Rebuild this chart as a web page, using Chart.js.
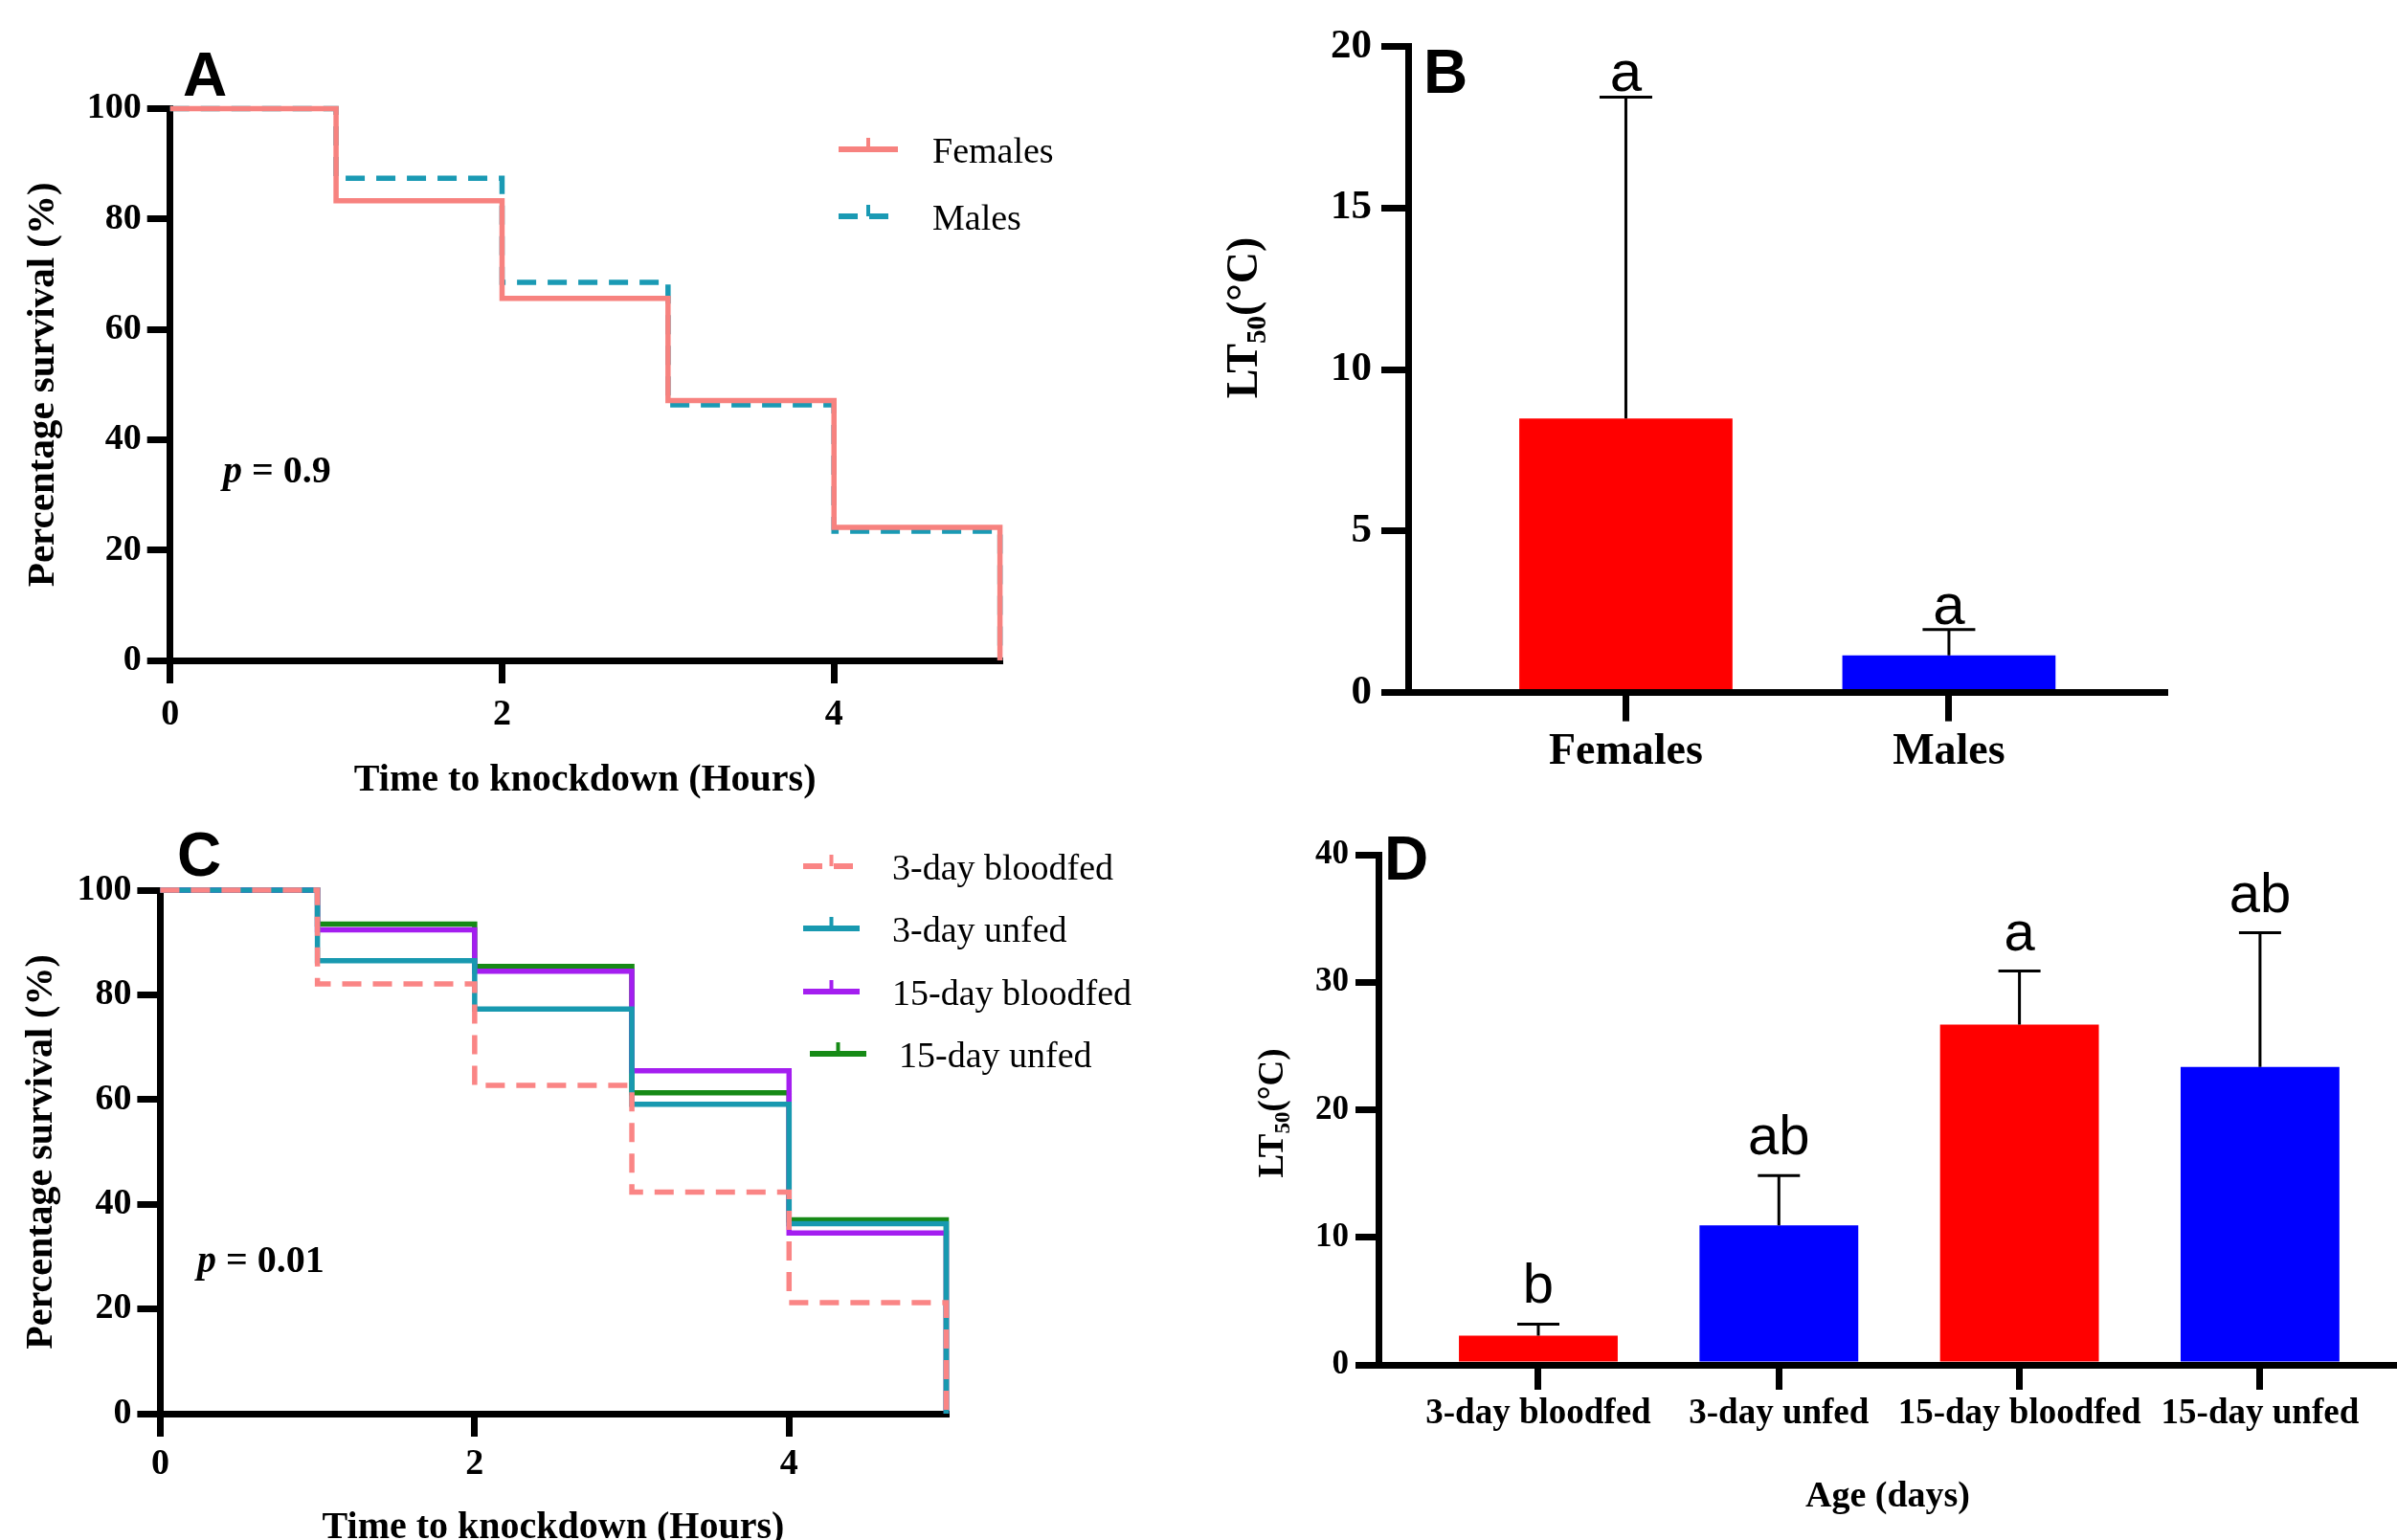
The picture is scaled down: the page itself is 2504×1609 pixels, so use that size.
<!DOCTYPE html>
<html>
<head>
<meta charset="utf-8">
<title>Knockdown survival and LT50</title>
<script src="https://cdn.jsdelivr.net/npm/chart.js@4.4.1/dist/chart.umd.min.js"></script>
<style>
  body { margin: 0; background: #fff; }
  #fig { position: relative; width: 2504px; height: 1609px; overflow: hidden; }
  #fig canvas { position: absolute; left: 0; top: 0; }
</style>
</head>
<body>
<div id="fig">
  <canvas id="chartA" width="2504" height="1609"></canvas>
  <canvas id="chartB" width="2504" height="1609"></canvas>
  <canvas id="chartC" width="2504" height="1609"></canvas>
  <canvas id="chartD" width="2504" height="1609"></canvas>
</div>
<script>
// --- data ---
const hours = [0, 1, 2, 3, 4, 5];
const hourTicks = [0, 2, 4];
const survTicks = [0, 20, 40, 60, 80, 100];

// A: survival by sex
const femalesSurv = [100, 83.3, 65.6, 47.1, 24.1, 0];
const malesSurv = [100, 87.4, 68.5, 46.3, 23.4, 0];

// B: LT50 by sex
const sexGroups = ['Females', 'Males'];
const sexLT50 = [8.48, 1.15];
const sexSD = [9.95, 0.8];
const sexLetters = ['a', 'a'];
const sexTicks = [0, 5, 10, 15, 20];

// C: survival by age / feeding
const ageGroups = ['3-day bloodfed', '3-day unfed', '15-day bloodfed', '15-day unfed'];
const survBloodfed3 = [100, 82.1, 62.7, 42.3, 21.2, 0];
const survUnfed3 = [100, 86.5, 77.3, 59.1, 36.3, 0];
const survBloodfed15 = [100, 92.4, 84.5, 65.5, 34.5, 0];
const survUnfed15 = [100, 93.5, 85.4, 61.3, 37.0, 0];

// D: LT50 by age / feeding
const ageLT50 = [2.28, 10.93, 26.68, 23.35];
const ageSD = [0.91, 3.91, 4.2, 10.53];
const ageLetters = ['b', 'ab', 'a', 'ab'];
const ageTicks = [0, 10, 20, 30, 40];

const SERIF = "'Liberation Serif', 'Times New Roman', serif";
const SANS = "'Liberation Sans', Arial, sans-serif";

// draws panel letter, p value, legend, error bars and LT50 axis title
const figureExtras = {
    id: 'figureExtras',
    afterDatasetsDraw(chart, args, opts) {
        const ctx = chart.ctx;
        ctx.save();
        ctx.fillStyle = '#000';

        if (opts.errors) {
            const e = opts.errors;
            const yScale = chart.scales.y;
            const meta = chart.getDatasetMeta(0);
            meta.data.forEach((bar, i) => {
                const yTop = yScale.getPixelForValue(chart.data.datasets[0].data[i].y + e.sd[i]);
                ctx.strokeStyle = '#000';
                ctx.lineWidth = 3;
                ctx.setLineDash([]);
                ctx.beginPath();
                ctx.moveTo(bar.x, bar.y);
                ctx.lineTo(bar.x, yTop);
                ctx.moveTo(bar.x - e.cap / 2, yTop);
                ctx.lineTo(bar.x + e.cap / 2, yTop);
                ctx.stroke();
                ctx.font = e.font;
                ctx.textAlign = 'center';
                ctx.textBaseline = 'alphabetic';
                ctx.fillText(e.letters[i], bar.x, yTop - e.gap);
            });
        }

        if (opts.legend) {
            const lg = opts.legend;
            chart.data.datasets.forEach((ds, i) => {
                const dx = lg.dx ? lg.dx[i] : 0;
                const y = lg.ys[i];
                const x1 = lg.x1 + dx, x2 = lg.x2 + dx;
                ctx.strokeStyle = ds.borderColor;
                ctx.lineWidth = 6;
                ctx.setLineDash(ds.borderDash || []);
                ctx.beginPath();
                ctx.moveTo(x1, y);
                ctx.lineTo(x2, y);
                ctx.stroke();
                ctx.setLineDash([]);
                ctx.lineWidth = 4;
                ctx.beginPath();
                ctx.moveTo((x1 + x2) / 2, y);
                ctx.lineTo((x1 + x2) / 2, y - 12);
                ctx.stroke();
                ctx.font = '38px ' + SERIF;
                ctx.textAlign = 'left';
                ctx.textBaseline = 'alphabetic';
                ctx.fillText(ds.label, lg.textX + dx, y + 14);
            });
        }

        if (opts.pval) {
            const p = opts.pval;
            ctx.textAlign = 'left';
            ctx.textBaseline = 'alphabetic';
            ctx.font = 'italic bold 40px ' + SERIF;
            ctx.fillText('p', p.x, p.y);
            const w = ctx.measureText('p').width;
            ctx.font = 'bold 40px ' + SERIF;
            ctx.fillText(' = ' + p.value, p.x + w, p.y);
        }

        if (opts.ytitle) {
            const t = opts.ytitle;
            const big = 'bold ' + t.size + 'px ' + SERIF;
            const small = 'bold ' + Math.round(t.size * 0.62) + 'px ' + SERIF;
            ctx.font = big;
            const w1 = ctx.measureText('LT').width;
            const w3 = ctx.measureText('(°C)').width;
            ctx.font = small;
            const w2 = ctx.measureText('50').width;
            ctx.translate(t.cx, t.cy);
            ctx.rotate(-Math.PI / 2);
            ctx.textAlign = 'left';
            ctx.textBaseline = 'middle';
            let x = -(w1 + w2 + w3) / 2;
            ctx.font = big;
            ctx.fillText('LT', x, 0);
            x += w1;
            ctx.font = small;
            ctx.fillText('50', x, t.size * 0.3);
            x += w2;
            ctx.font = big;
            ctx.fillText('(°C)', x, 0);
            ctx.setTransform(1, 0, 0, 1, 0, 0);
        }

        if (opts.panel) {
            ctx.font = 'bold 64px ' + SANS;
            ctx.textAlign = 'left';
            ctx.textBaseline = 'alphabetic';
            ctx.fillText(opts.panel.text, opts.panel.x, opts.panel.y);
        }
        ctx.restore();
    }
};

function axisStyle(tickLength) {
    return {
        grid: { drawOnChartArea: false, drawTicks: true, tickLength: tickLength, tickWidth: 7, lineWidth: 7, color: '#000', tickColor: '#000' },
        border: { display: true, width: 7, color: '#000' }
    };
}

function fixedTicks(values) {
    return (scale) => { scale.ticks = values.map(v => ({ value: v })); };
}

function baseOptions(padding, plugins, scales) {
    return {
        responsive: false,
        devicePixelRatio: 1,
        animation: false,
        events: [],
        layout: { padding: padding },
        plugins: Object.assign({ legend: { display: false }, tooltip: { enabled: false } }, plugins),
        scales: scales
    };
}

function kmLine(label, values, color, dash) {
    return {
        label: label,
        data: hours.map((h, i) => ({ x: h, y: values[i] })),
        stepped: true,
        borderColor: color,
        borderWidth: 5.5,
        borderDash: dash,
        pointRadius: 0,
        fill: false,
        clip: false
    };
}

function kmScales(o) {
    return {
        x: Object.assign({
            type: 'linear', min: 0, max: 5,
            afterBuildTicks: fixedTicks(hourTicks),
            afterFit: (s) => { s.height = o.xHeight; },
            ticks: { color: '#000', font: { family: SERIF, size: 38, weight: 'bold' }, padding: o.xPad, maxRotation: 0, autoSkip: false },
            title: { display: true, text: 'Time to knockdown (Hours)', color: '#000',
                     font: { family: SERIF, size: 40, weight: 'bold', lineHeight: o.xTitleLH }, padding: { top: 0, bottom: o.xTitlePad } }
        }, axisStyle(24)),
        y: Object.assign({
            min: 0, max: 100,
            afterBuildTicks: fixedTicks(survTicks),
            afterFit: (s) => { s.width = o.yWidth; },
            ticks: { color: '#000', font: { family: SERIF, size: 38, weight: 'bold' }, padding: 6 },
            title: { display: true, text: 'Percentage survival (%)', color: '#000',
                     font: { family: SERIF, size: o.yTitleSize, weight: 'bold' }, padding: { top: o.yTitlePad, bottom: 0 } }
        }, axisStyle(24))
    };
}

function barScales(o) {
    return {
        x: Object.assign({
            type: 'linear', min: o.xMin, max: o.xMax, offset: false, z: 1,
            afterBuildTicks: fixedTicks(o.groups.map((g, i) => i)),
            afterFit: (s) => { s.height = o.xHeight; },
            ticks: { color: '#000', font: { family: SERIF, size: o.xFont, weight: 'bold' }, padding: o.xPad,
                     maxRotation: 0, autoSkip: false, callback: (v) => o.groups[v] },
            title: o.xTitle ? { display: true, text: o.xTitle, color: '#000',
                     font: { family: SERIF, size: 38, weight: 'bold' }, padding: { top: 0, bottom: o.xTitlePad } } : { display: false }
        }, axisStyle(o.xTick)),
        y: Object.assign({
            min: 0, max: o.yMax, z: 1,
            afterBuildTicks: fixedTicks(o.yTicks),
            afterFit: (s) => { s.width = o.yWidth; },
            ticks: { color: '#000', font: { family: SERIF, size: o.yFont, weight: 'bold' }, padding: o.yPad }
        }, axisStyle(o.yTick))
    };
}
// grid offset off for the linear category axes
function noGridOffset(scales) {
    scales.x.grid.offset = false;
    return scales;
}

// --- A ---
new Chart(document.getElementById('chartA'), {
    type: 'line',
    data: { datasets: [
        kmLine('Females', femalesSurv, '#F7827F', []),
        kmLine('Males', malesSurv, '#1A9AB4', [20, 12])
    ] },
    options: baseOptions(
        { left: 0, top: 113.5, right: 1459.4, bottom: 759 },
        { figureExtras: {
            panel: { text: 'A', x: 191, y: 100 },
            pval: { value: '0.9', x: 233, y: 504 },
            legend: { x1: 876, x2: 938, textX: 974, ys: [156, 226] }
        } },
        kmScales({ xHeight: 160, xPad: 10, xTitleLH: 1.2, xTitlePad: 10, yWidth: 177.7, yTitleSize: 41, yTitlePad: 21 })
    ),
    plugins: [figureExtras]
});

// --- B ---
new Chart(document.getElementById('chartB'), {
    type: 'bar',
    data: { datasets: [{
        data: sexGroups.map((g, i) => ({ x: i, y: sexLT50[i] })),
        backgroundColor: ['#FF0000', '#0000FF'],
        borderWidth: 0,
        categoryPercentage: 1,
        barPercentage: 0.66
    }] },
    options: baseOptions(
        { left: 1321, top: 48.5, right: 242.3, bottom: 785.4 },
        { figureExtras: {
            panel: { text: 'B', x: 1487, y: 97 },
            errors: { sd: sexSD, letters: sexLetters, cap: 55, gap: 6, font: '60px ' + SANS },
            ytitle: { cx: 1301, cy: 332, size: 46 }
        } },
        noGridOffset(barScales({ groups: sexGroups, xMin: -0.674, xMax: 1.669, xHeight: 100, xFont: 46, xPad: 5, xTick: 30,
                                 yMax: 20, yTicks: sexTicks, yWidth: 150, yFont: 43, yPad: 10, yTick: 28 }))
    ),
    plugins: [figureExtras]
});

// --- C ---
new Chart(document.getElementById('chartC'), {
    type: 'line',
    data: { datasets: [
        kmLine(ageGroups[0], survBloodfed3, '#FA8585', [20, 12]),
        kmLine(ageGroups[1], survUnfed3, '#1899B0', []),
        kmLine(ageGroups[2], survBloodfed15, '#A41EF0', []),
        kmLine(ageGroups[3], survUnfed15, '#168A16', [])
    ] },
    options: baseOptions(
        { left: 0, top: 930, right: 1515.5, bottom: 0 },
        { figureExtras: {
            panel: { text: 'C', x: 185, y: 915 },
            pval: { value: '0.01', x: 206, y: 1329 },
            legend: { x1: 839, x2: 898, textX: 932, ys: [905, 970, 1036, 1101], dx: [0, 0, 0, 7] }
        } },
        kmScales({ xHeight: 132, xPad: 6, xTitleLH: 0.6, xTitlePad: 0.5, yWidth: 167.4, yTitleSize: 40, yTitlePad: 20 })
    ),
    plugins: [figureExtras]
});

// --- D ---
new Chart(document.getElementById('chartD'), {
    type: 'bar',
    data: { datasets: [{
        data: ageGroups.map((g, i) => ({ x: i, y: ageLT50[i] })),
        backgroundColor: ['#FF0000', '#0000FF', '#FF0000', '#0000FF'],
        borderWidth: 0,
        categoryPercentage: 1,
        barPercentage: 0.66
    }] },
    options: baseOptions(
        { left: 1320, top: 893, right: 0, bottom: 18 },
        { figureExtras: {
            panel: { text: 'D', x: 1446, y: 919 },
            errors: { sd: ageSD, letters: ageLetters, cap: 44, gap: 22, font: '58px ' + SANS },
            ytitle: { cx: 1330, cy: 1163, size: 37 }
        } },
        noGridOffset(barScales({ groups: ageGroups, xMin: -0.6645, xMax: 3.5694, xHeight: 165, xFont: 37, xPad: 3, xTick: 26,
                                 xTitle: 'Age (days)', xTitlePad: 4,
                                 yMax: 40, yTicks: ageTicks, yWidth: 120, yFont: 35, yPad: 7, yTick: 24 }))
    ),
    plugins: [figureExtras]
});
</script>
</body>
</html>
